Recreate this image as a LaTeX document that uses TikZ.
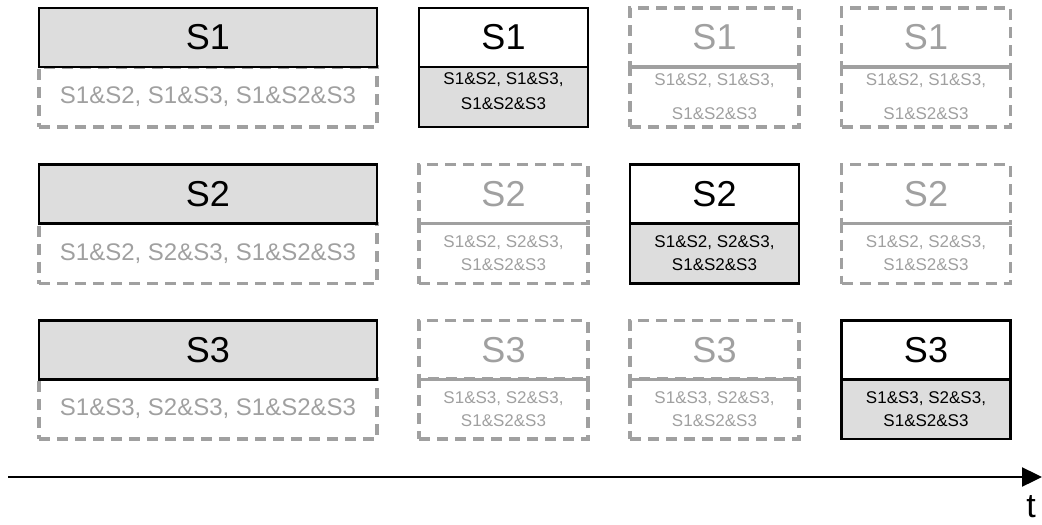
\documentclass[tikz,border=0pt]{standalone}
\usepackage{fontspec}
\setmainfont{Liberation Sans}
\usetikzlibrary{arrows.meta}
\definecolor{boxgray}{HTML}{DDDDDD}
\definecolor{ghost}{HTML}{A0A0A0}
\begin{document}
\begin{tikzpicture}[x=1pt,y=-1pt,
  box/.style={rectangle,inner sep=0pt,line width=2.6pt},
  selbox/.style={box,draw=black,fill=boxgray,text=black},
  curbox/.style={box,draw=black,fill=white,text=black},
  ghostbox/.style={box,draw=ghost,line width=3.2pt,dash pattern=on 11pt off 7pt,text=ghost},
  wide/.style={minimum width=338pt},
  narrow/.style={minimum width=169pt},
  headbox/.style={minimum height=59pt,font=\fontsize{36}{40}\selectfont},
  setbox/.style={minimum height=60pt},
  widetext/.style={font=\fontsize{24}{28}\selectfont},
  narrowtext/.style={font=\fontsize{17}{23}\selectfont,align=center},
  loosetext/.style={font=\fontsize{17}{34}\selectfont,align=center},
]
\useasboundingbox (0,0) rectangle (1042,525);

% ---------- row 1 ----------
\node[ghostbox,wide,setbox,widetext] (s1a) at (208,97) {S1\&S2, S1\&S3, S1\&S2\&S3};
\node[selbox,wide,headbox] (h1a) at (208,37.5) {S1};

\node[selbox,narrow,setbox,
      label={[font=\fontsize{17}{25}\selectfont,align=center,yshift=6pt]center:{S1\&S2, S1\&S3,\\S1\&S2\&S3}}] (s1b) at (503.5,97) {};
\node[curbox,narrow,headbox] (h1b) at (503.5,37.5) {S1};

\node[ghostbox,narrow,setbox,loosetext] (s1c) at (714.5,97) {S1\&S2, S1\&S3,\\S1\&S2\&S3};
\node[ghostbox,narrow,headbox] (h1c) at (714.5,37.5) {S1};

\node[ghostbox,narrow,setbox,loosetext] (s1d) at (926,97) {S1\&S2, S1\&S3,\\S1\&S2\&S3};
\node[ghostbox,narrow,headbox] (h1d) at (926,37.5) {S1};

% ---------- row 2 ----------
\node[ghostbox,wide,setbox,widetext] (s2a) at (208,253.5) {S1\&S2, S2\&S3, S1\&S2\&S3};
\node[selbox,wide,headbox] (h2a) at (208,194) {S2};

\node[ghostbox,narrow,setbox,narrowtext] (s2b) at (503.5,253.5) {S1\&S2, S2\&S3,\\S1\&S2\&S3};
\node[ghostbox,narrow,headbox] (h2b) at (503.5,194) {S2};

\node[selbox,narrow,setbox,narrowtext] (s2c) at (714.5,253.5) {S1\&S2, S2\&S3,\\S1\&S2\&S3};
\node[curbox,narrow,headbox] (h2c) at (714.5,194) {S2};

\node[ghostbox,narrow,setbox,narrowtext] (s2d) at (926,253.5) {S1\&S2, S2\&S3,\\S1\&S2\&S3};
\node[ghostbox,narrow,headbox] (h2d) at (926,194) {S2};

% ---------- row 3 ----------
\node[ghostbox,wide,setbox,widetext] (s3a) at (208,409) {S1\&S3, S2\&S3, S1\&S2\&S3};
\node[selbox,wide,headbox] (h3a) at (208,350) {S3};

\node[ghostbox,narrow,setbox,narrowtext] (s3b) at (503.5,409) {S1\&S3, S2\&S3,\\S1\&S2\&S3};
\node[ghostbox,narrow,headbox] (h3b) at (503.5,350) {S3};

\node[ghostbox,narrow,setbox,narrowtext] (s3c) at (714.5,409) {S1\&S3, S2\&S3,\\S1\&S2\&S3};
\node[ghostbox,narrow,headbox] (h3c) at (714.5,350) {S3};

\node[selbox,narrow,setbox,narrowtext] (s3d) at (926,409) {S1\&S3, S2\&S3,\\S1\&S2\&S3};
\node[curbox,narrow,headbox] (h3d) at (926,350) {S3};

% ---------- time axis ----------
\coordinate (tl) at (8,477);
\coordinate (tr) at (1042,477);
\draw[line width=2.4pt,-{Triangle[length=20pt,width=19pt]}] (tl) -- (tr);
\node[font=\fontsize{34}{38}\selectfont,anchor=base,inner sep=0pt] (t) at (1031,517) {t};
\end{tikzpicture}
\end{document}
